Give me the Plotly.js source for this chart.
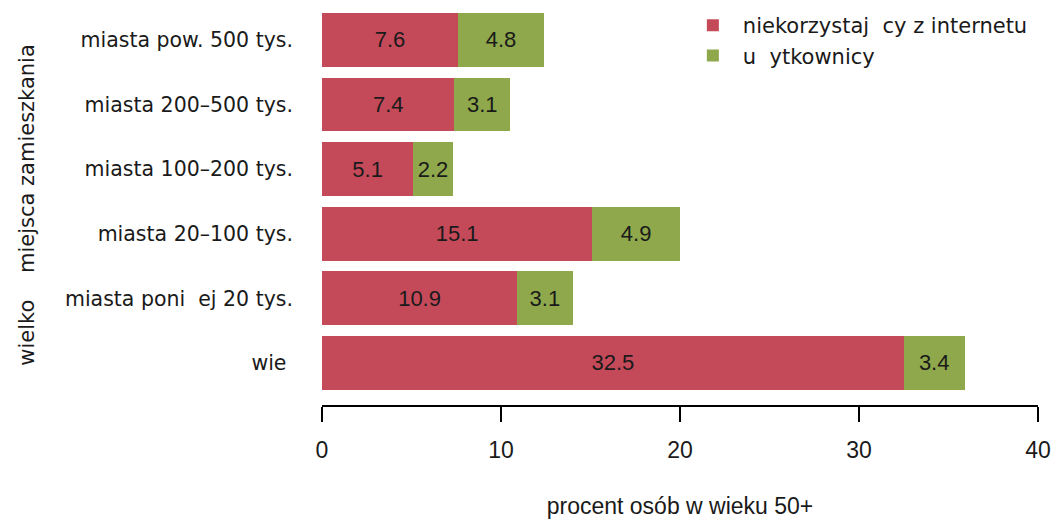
<!DOCTYPE html>
<html>
<head>
<meta charset="utf-8">
<script src="https://cdn.plot.ly/plotly-3.0.1.min.js"></script>
<style>html,body{margin:0;padding:0;background:#fff;}#chart{width:1052px;height:519px;}</style>
</head>
<body>
<div id="chart"></div>
<script>
// Data (bottom to top)
const categories = ["wie\u00a0", "miasta poni\u00a0\u00a0ej 20 tys.", "miasta 20\u2013100 tys.", "miasta 100\u2013200 tys.", "miasta 200\u2013500 tys.", "miasta pow. 500 tys."];
const nonUsers = [32.5, 10.9, 15.1, 5.1, 7.4, 7.6];
const users = [3.4, 3.1, 4.9, 2.2, 3.1, 4.8];
const seriesNames = ["niekorzystaj\u00a0\u00a0cy z internetu", "u\u00a0\u00a0ytkownicy"];
const yTitle = "wielko\u00a0\u00a0\u00a0\u00a0miejsca zamieszkania";
const xTitle = "procent osób w wieku 50+";
const xTicks = [0, 10, 20, 30, 40];

const numFont = "Liberation Sans, Arial, sans-serif";
const txtFont = "DejaVu Sans, sans-serif";

const idx = categories.map((c, i) => i);

const traces = [
  {type: 'bar', orientation: 'h', name: seriesNames[0], x: nonUsers, y: idx,
   marker: {color: '#C44A5A'}, width: 0.833,
   text: nonUsers.map(v => v.toFixed(1)), textposition: 'inside', insidetextanchor: 'middle',
   textfont: {family: numFont, size: 22, color: '#1a1a1a'}, constraintext: 'none', hoverinfo: 'x+name'},
  {type: 'bar', orientation: 'h', name: seriesNames[1], x: users, y: idx,
   marker: {color: '#8EA84B'}, width: 0.833,
   text: users.map(v => v.toFixed(1)), textposition: 'inside', insidetextanchor: 'middle',
   textfont: {family: numFont, size: 22, color: '#1a1a1a'}, constraintext: 'none', hoverinfo: 'x+name'}
];

const layout = {
  width: 1052, height: 519,
  margin: {l: 322, r: 14, t: 5, b: 114},
  paper_bgcolor: '#fff', plot_bgcolor: '#fff',
  barmode: 'stack',
  showlegend: true,
  legend: {x: 0.504, y: 1.0, xanchor: 'left', yanchor: 'top', traceorder: 'normal',
           font: {family: txtFont, size: 21, color: '#1a1a1a'}, bgcolor: 'rgba(0,0,0,0)', itemwidth: 50},
  xaxis: {range: [0, 40], tickvals: xTicks, ticktext: xTicks.map(String),
          showgrid: false, zeroline: false, showline: true, linecolor: '#000', linewidth: 2,
          ticks: 'outside', ticklen: 15, tickwidth: 2, tickcolor: '#000',
          ticklabelstandoff: 8,
          tickfont: {family: numFont, size: 23, color: '#1a1a1a'},
          title: {text: xTitle, font: {family: numFont, size: 23, color: '#1a1a1a'}, standoff: 42}},
  yaxis: {range: [-0.65, 5.54], tickvals: idx, ticktext: categories,
          showgrid: false, zeroline: false, showline: false, ticks: '',
          ticklabelstandoff: 28,
          tickfont: {family: txtFont, size: 20.5, color: '#1a1a1a'},
          title: {text: yTitle, font: {family: txtFont, size: 21, color: '#1a1a1a'}, standoff: 24}},
  font: {family: txtFont}
};

Plotly.newPlot('chart', traces, layout, {displayModeBar: false, staticPlot: true});
</script>
</body>
</html>
